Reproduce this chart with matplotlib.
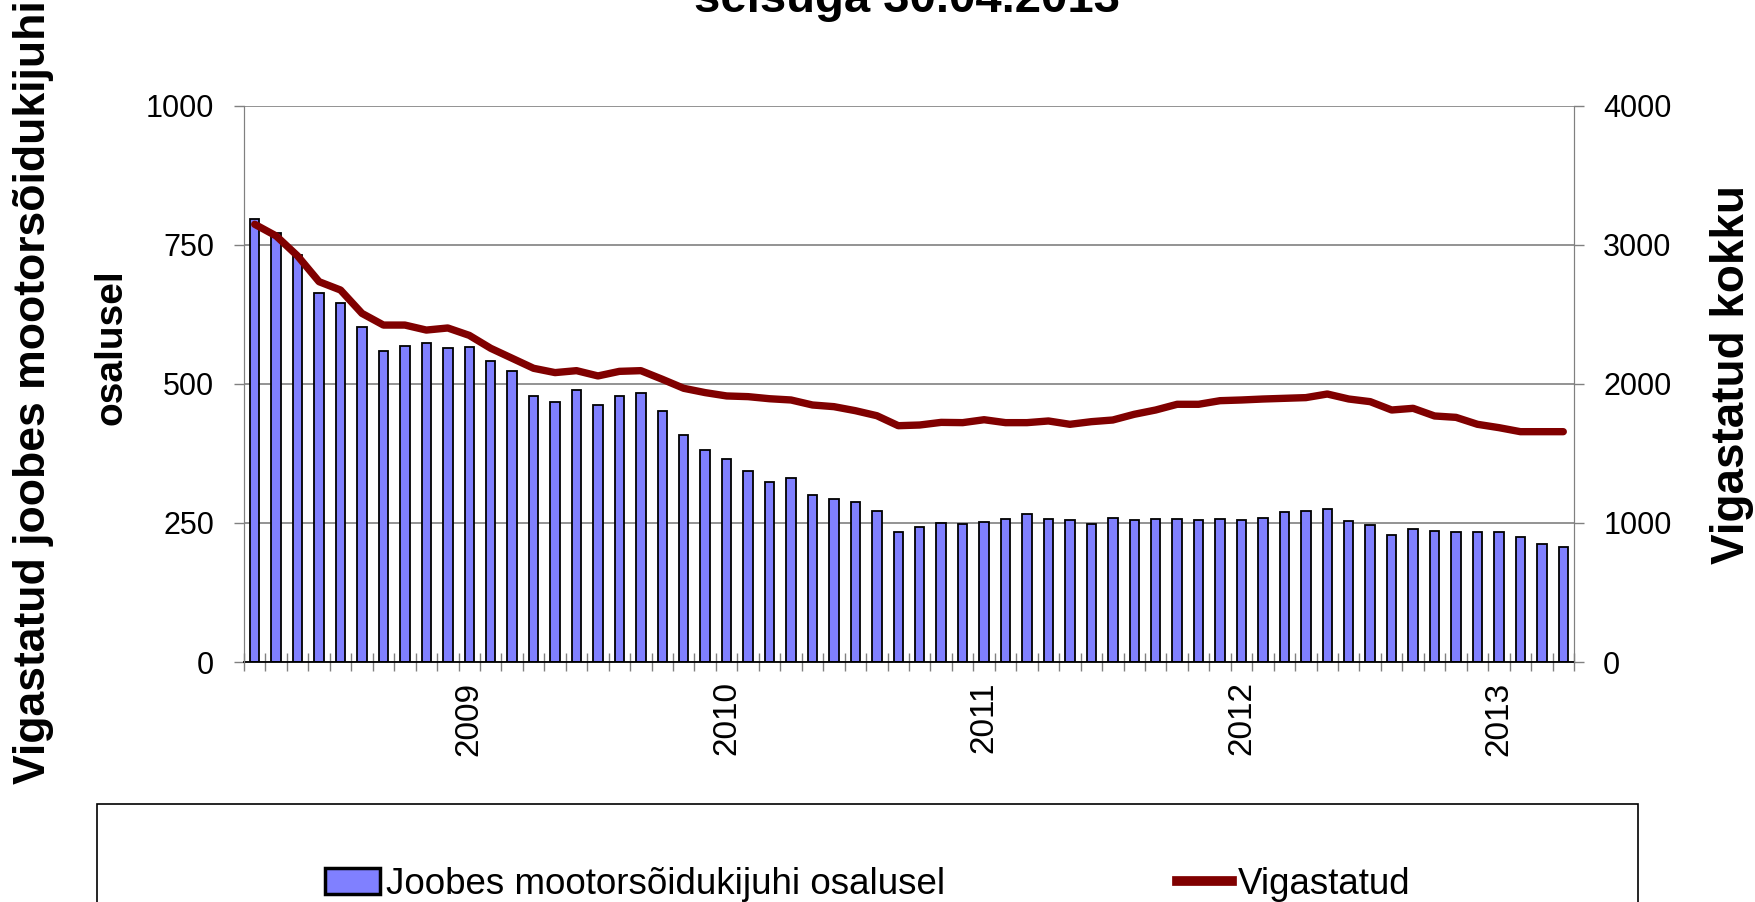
import pandas as pd
import matplotlib
matplotlib.use('Agg')
import matplotlib.pyplot as plt
from matplotlib.patches import Rectangle, Patch
from matplotlib.lines import Line2D

plt.rcParams['font.family'] = ['Liberation Sans', 'DejaVu Sans']

# months Mar 2008 .. Apr 2013
months = pd.date_range('2008-03-01', periods=62, freq='MS')

# Joobes mootorsõidukijuhi osalusel (left axis)
joobes = [797, 772, 732, 663, 646, 603, 559, 569, 573, 564,
          566, 541, 524, 478, 468, 490, 462, 478, 484, 451,
          409, 381, 365, 344, 324, 331, 301, 294, 287, 272,
          234, 242, 250, 248, 252, 257, 267, 257, 255, 249,
          259, 255, 257, 257, 255, 258, 255, 259, 270, 272,
          276, 254, 247, 228, 240, 236, 233, 233, 233, 225,
          212, 207]

# Vigastatud kokku (right axis)
vigastatud = [3149, 3065, 2921, 2736, 2676, 2508, 2424, 2424, 2388, 2403,
              2350, 2257, 2185, 2113, 2082, 2096, 2058, 2091, 2096, 2034,
              1969, 1938, 1914, 1909, 1894, 1885, 1849, 1837, 1808, 1772,
              1700, 1705, 1724, 1722, 1743, 1722, 1722, 1734, 1710, 1729,
              1741, 1782, 1813, 1854, 1854, 1880, 1885, 1892, 1897, 1902,
              1928, 1892, 1873, 1813, 1825, 1770, 1760, 1710, 1686, 1657,
              1657, 1657]

bar_color = '#8080FF'
line_color = '#800000'
grid_color = '#808080'

W, H = 1756, 902
fig = plt.figure(figsize=(W / 100, H / 100), dpi=100)
ax = fig.add_axes([244 / W, 1 - 662 / H, (1574 - 244) / W, (662 - 106) / H])

x = list(range(len(months)))
ax.bar(x, joobes, width=0.44, color=bar_color, edgecolor='black', linewidth=1.3, zorder=2)
ax.set_xlim(-0.5, len(months) - 0.5)
ax.set_ylim(0, 1000)
ax.set_yticks([0, 250, 500, 750, 1000])
ax.set_axisbelow(True)
ax.yaxis.grid(True, color=grid_color, linewidth=1.2)

# x axis: year labels at January, ticks between categories
year_pos = [i for i, m in enumerate(months) if m.month == 1]
year_lab = [str(months[i].year) for i in year_pos]
ax.set_xticks(year_pos)
ax.set_xticklabels(year_lab, rotation=90, fontsize=24)
ax.set_xticks([i - 0.5 for i in range(len(months) + 1)], minor=True)
ax.tick_params(axis='x', which='major', length=0, pad=14)
ax.tick_params(axis='x', which='minor', direction='inout', length=13, width=1, color=grid_color)
ax.tick_params(axis='y', which='major', direction='out', length=7.5, width=1,
               color=grid_color, labelsize=22, pad=14)

ax.spines['top'].set_visible(False)
ax.spines['left'].set_color(grid_color)
ax.spines['right'].set_color(grid_color)
ax.spines['bottom'].set_color('black')
ax.spines['bottom'].set_linewidth(1.3)

ax2 = ax.twinx()
ax2.plot(x, vigastatud, color=line_color, linewidth=5.3, solid_capstyle='round', solid_joinstyle='round')
ax2.set_ylim(0, 4000)
ax2.set_yticks([0, 1000, 2000, 3000, 4000])
ax2.tick_params(axis='y', which='major', direction='out', length=7, width=1,
                color=grid_color, labelsize=22, pad=14)
for s in ['top', 'bottom']:
    ax2.spines[s].set_visible(False)
ax2.spines['left'].set_color(grid_color)
ax2.spines['right'].set_color(grid_color)

# title (partly outside the top edge, as in the source image)
fig.text(907 / W, 1 - 12 / H, 'seisuga 30.04.2013', ha='center', va='baseline',
         fontsize=34, fontweight='bold')

# axis titles
fig.text(45 / W, 1 - 392 / H, 'Vigastatud joobes mootorsõidukijuhi', rotation=90,
         rotation_mode='anchor', ha='center', va='baseline', fontsize=32, fontweight='bold')
fig.text(122 / W, 1 - 347 / H, 'osalusel', rotation=90,
         rotation_mode='anchor', ha='center', va='baseline', fontsize=28, fontweight='bold')
fig.text(1744 / W, 1 - 375 / H, 'Vigastatud kokku', rotation=90,
         rotation_mode='anchor', ha='center', va='baseline', fontsize=33, fontweight='bold')

# legend with frame running past the bottom edge
fig.patches.append(Rectangle((97 / W, -0.1), (1638 - 97) / W, 0.1 + 1 - 804 / H,
                             transform=fig.transFigure, fill=False,
                             edgecolor='black', linewidth=1.2))
handles = [Patch(facecolor=bar_color, edgecolor='black', linewidth=2.5),
           Line2D([0], [0], color=line_color, linewidth=7)]
labels = ['Joobes mootorsõidukijuhi osalusel', 'Vigastatud']
fig.legend(handles, labels, loc='center left', bbox_to_anchor=(325 / W, 1 - 884 / H),
           ncol=2, frameon=False, fontsize=26.5, handlelength=1.5, handleheight=0.7,
           handletextpad=0.15, columnspacing=6.3, borderpad=0, borderaxespad=0)

fig.savefig('out.png', dpi=100)
